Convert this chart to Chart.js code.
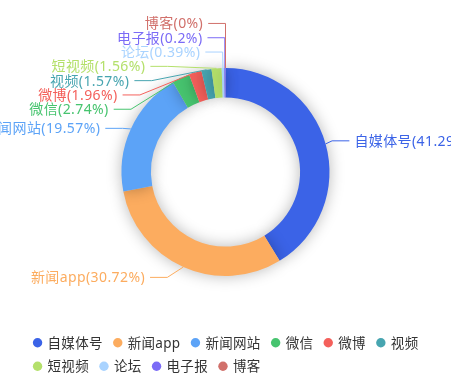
<!DOCTYPE html>
<html>
<head>
<meta charset="utf-8">
<script src="https://cdn.jsdelivr.net/npm/chart.js@4/dist/chart.umd.min.js"></script>
<style>
html,body{margin:0;padding:0;background:#ffffff;}
#wrap{width:451px;height:382px;position:relative;overflow:hidden;}
</style>
</head>
<body>
<div id="wrap"><canvas id="c" width="451" height="382"></canvas></div>
<script>
// ---- data ----
const categories = ['自媒体号', '新闻app', '新闻网站', '微信', '微博', '视频', '短视频', '论坛', '电子报', '博客'];
const shares = [41.29, 30.72, 19.57, 2.74, 1.96, 1.57, 1.56, 0.39, 0.2, 0];
const colors = ['#3b63e7', '#fcac5f', '#5ca3f7', '#47c46f', '#f4605b', '#47a5b0', '#b4e06b', '#a9d3ff', '#7b6bf6', '#d1706b'];

const LABEL_FONT = '14px "Noto Sans", "Noto Sans CJK SC", sans-serif';
const LEGEND_FONT = '13.5px "Noto Sans", "Noto Sans CJK SC", sans-serif';

// soft shadow under each sector
const shadowPlugin = {
  id: 'sectorShadow',
  beforeDatasetsDraw(chart) {
    const c = chart.ctx;
    c.save();
    c.shadowColor = 'rgba(0,0,0,0.28)';
    c.shadowBlur = 15;
  },
  afterDatasetsDraw(chart) {
    chart.ctx.restore();
  }
};

// outside labels with leader lines (overlap avoidance in the style of classic pie labels)
const labelPlugin = {
  id: 'outerLabels',
  afterDraw(chart) {
    const ctx = chart.ctx;
    const arcs = chart.getDatasetMeta(0).data;
    if (!arcs.length) return;
    const cx = arcs[0].x, cy = arcs[0].y, r = arcs[0].outerRadius;
    const LEN = 11.3, LEN2 = 17.3, DIST = 5, H = 14.3;
    const viewTop = 0, viewHeight = chart.height;
    const items = arcs.map((arc, i) => {
      const a = (arc.startAngle + arc.endAngle) / 2;
      const dx = Math.cos(a), dy = Math.sin(a);
      const dir = dx < 1e-9 ? -1 : 1;
      const x1 = cx + r * dx, y1 = cy + r * dy;
      const x2 = x1 + LEN * dx, y2 = y1 + LEN * dy;
      const x3 = x2 + dir * LEN2;
      return { i, dir, x1, y1, x2, y: y2, x: x3 + dir * DIST, dist: x2 - x3, height: H,
               text: categories[i] + '(' + shares[i] + '%)', color: colors[i] };
    });

    function adjustSingleSide(list, dir) {
      list.sort((a, b) => a.y - b.y);
      function shiftDown(start, end, delta) {
        for (let j = start; j < end; j++) {
          if (list[j].y + delta > viewTop + viewHeight) break;
          list[j].y += delta;
          if (j > start && j + 1 < end && list[j + 1].y > list[j].y + list[j].height) {
            shiftUp(j, delta / 2);
            return;
          }
        }
        shiftUp(end - 1, delta / 2);
      }
      function shiftUp(end, delta) {
        for (let j = end; j >= 0; j--) {
          if (list[j].y - delta < viewTop) break;
          list[j].y -= delta;
          if (j > 0 && list[j].y > list[j - 1].y + list[j - 1].height) break;
        }
      }
      let lastY = 0;
      const len = list.length;
      for (let i = 0; i < len; i++) {
        const delta = list[i].y - lastY;
        if (delta < 0) shiftDown(i, len, -delta);
        lastY = list[i].y + list[i].height;
      }
      if (viewHeight - lastY < 0) shiftUp(len - 1, lastY - viewHeight);
      const up = [], down = [];
      list.forEach(it => (it.y >= cy ? down : up).push(it));
      changeX(up, false, dir);
      changeX(down, true, dir);
    }
    function changeX(list, isDown, dir) {
      let last = isDown ? Number.MAX_VALUE : 0;
      for (const it of list) {
        const dY = Math.abs(it.y - cy);
        let dX = dY < r + LEN
          ? Math.sqrt((r + LEN + LEN2) * (r + LEN + LEN2) - dY * dY)
          : Math.abs(it.x - cx);
        if (isDown && dX >= last) dX = last - 10;
        if (!isDown && dX <= last) dX = last + 10;
        it.x = cx + dX * dir;
        last = dX;
      }
    }
    const left = items.filter(it => it.x < cx);
    const right = items.filter(it => it.x >= cx);
    if (left.length) adjustSingleSide(left, -1);
    if (right.length) adjustSingleSide(right, 1);

    ctx.save();
    ctx.font = LABEL_FONT;
    if ('letterSpacing' in ctx) ctx.letterSpacing = '0.4px';
    ctx.textBaseline = 'middle';
    ctx.lineWidth = 1;
    for (const it of items) {
      const p2x = it.x - it.dir * DIST;
      const p1x = p2x + it.dist;
      ctx.strokeStyle = it.color;
      ctx.beginPath();
      ctx.moveTo(it.x1, it.y1);
      ctx.lineTo(p1x, it.y);
      ctx.lineTo(p2x, it.y);
      ctx.stroke();
      ctx.fillStyle = it.color;
      ctx.textAlign = it.dir < 0 ? 'right' : 'left';
      ctx.fillText(it.text, it.x, it.y + 1);
    }
    ctx.restore();
  }
};

// flowing legend at the bottom, block centred, rows left-aligned
const legendPlugin = {
  id: 'flowLegend',
  afterDraw(chart) {
    const ctx = chart.ctx;
    const ICON = 10, TGAP = 5, GAP = 10, MAXW = chart.width - 10;
    const ROW0 = 342.7, ROWH = 23.5;
    ctx.save();
    ctx.font = LEGEND_FONT;
    if ('letterSpacing' in ctx) ctx.letterSpacing = '0.3px';
    const widths = categories.map(c => ICON + TGAP + ctx.measureText(c).width);
    const rows = [[]];
    let w = 0;
    widths.forEach((iw, i) => {
      const need = (rows[rows.length - 1].length ? GAP : 0) + iw;
      if (w + need > MAXW && rows[rows.length - 1].length) {
        rows.push([]); w = 0;
      }
      w += (rows[rows.length - 1].length ? GAP : 0) + iw;
      rows[rows.length - 1].push(i);
    });
    const rowW = rows.map(rw => rw.reduce((s, i, k) => s + widths[i] + (k ? GAP : 0), 0));
    const blockW = Math.max(...rowW);
    const x0 = (chart.width - blockW) / 2;
    ctx.textBaseline = 'middle';
    ctx.textAlign = 'left';
    rows.forEach((rw, ri) => {
      let x = x0;
      const y = ROW0 + ri * ROWH;
      rw.forEach(i => {
        ctx.fillStyle = colors[i];
        ctx.beginPath();
        ctx.arc(x + ICON / 2, y, 4.7, 0, Math.PI * 2);
        ctx.fill();
        ctx.fillStyle = '#333333';
        ctx.fillText(categories[i], x + ICON + TGAP, y + 1);
        x += widths[i] + GAP;
      });
    });
    ctx.restore();
  }
};

new Chart(document.getElementById('c').getContext('2d'), {
  type: 'doughnut',
  data: {
    labels: categories,
    datasets: [{
      data: shares,
      backgroundColor: colors,
      borderWidth: 0,
      hoverOffset: 0
    }]
  },
  options: {
    responsive: false,
    animation: false,
    events: [],
    cutout: '71.7%',
    radius: 104,
    layout: { padding: { top: 0, bottom: 38, left: 0, right: 0 } },
    plugins: { legend: { display: false }, tooltip: { enabled: false } }
  },
  plugins: [shadowPlugin, labelPlugin, legendPlugin]
});
</script>
</body>
</html>
